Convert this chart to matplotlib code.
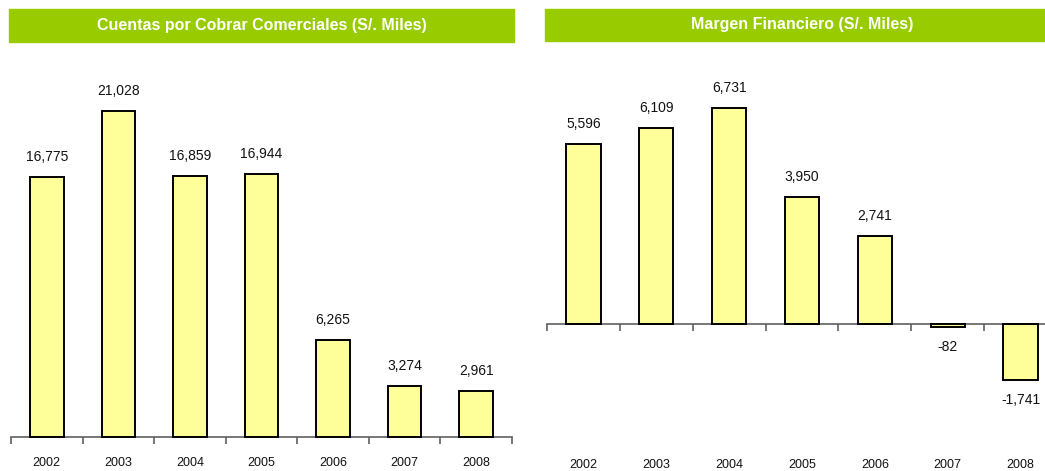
import matplotlib
matplotlib.use('Agg')
import matplotlib.pyplot as plt
import matplotlib.transforms as mtransforms
from matplotlib.patches import Rectangle

years = ['2002', '2003', '2004', '2005', '2006', '2007', '2008']
cuentas = [16775, 21028, 16859, 16944, 6265, 3274, 2961]
margen = [5596, 6109, 6731, 3950, 2741, -82, -1741]
titles = ['Cuentas por Cobrar Comerciales (S/. Miles)', 'Margen Financiero (S/. Miles)']

plt.rcParams['font.family'] = ['Liberation Sans', 'DejaVu Sans']

W, H = 1045, 471
fig = plt.figure(figsize=(W / 100, H / 100), dpi=100)

green = '#99CC00'
bar_fill = '#FFFF99'


def fx(px):
    return px / W


def fy(py):
    return 1 - py / H


def panel(ax, values, ylim, label_y):
    x = range(len(values))
    ax.bar(x, values, width=0.47, color=bar_fill, edgecolor='black', linewidth=1.4, zorder=3)
    ax.set_xlim(-0.5, len(values) - 0.5)
    ax.set_ylim(*ylim)
    for s in ['top', 'right', 'left']:
        ax.spines[s].set_visible(False)
    ax.spines['bottom'].set_position(('data', 0))
    ax.spines['bottom'].set_color('#606060')
    ax.spines['bottom'].set_linewidth(1.2)
    ax.set_yticks([])
    ax.set_xticks([])
    ax.set_xticks([i - 0.5 for i in range(len(values) + 1)], minor=True)
    ax.tick_params(axis='x', which='minor', direction='out', length=5, width=1.2,
                   color='#606060', labelbottom=False)
    trans = mtransforms.blended_transform_factory(ax.transData, ax.transAxes)
    for i, yr in enumerate(years):
        ax.text(i, label_y, yr, transform=trans, ha='center', va='center',
                fontsize=9, color='#111111')
    for i, v in enumerate(values):
        off = 14.4 if v >= 0 else -14.4
        ax.annotate(f'{v:,}', (i, v), xytext=(0, off), textcoords='offset points',
                    ha='center', va='center', fontsize=10, color='#111111')


# left panel: baseline at y=437 px, axes from y=42 to y=471
ax1 = fig.add_axes([fx(11), 0, fx(501), fy(42)])
panel(ax1, cuentas, (-2193, 25478), 8 / 429)

# right panel: baseline at y=324 px
ax2 = fig.add_axes([fx(547), 0, fx(510), fy(42)])
panel(ax2, margen, (-4581, 8788), 6 / 429)

for (x0, x1, y0, y1), t in zip([(9, 514, 9, 42), (545, 1060, 9, 41)], titles):
    fig.patches.append(Rectangle((fx(x0), fy(y1)), fx(x1 - x0), fy(y0) - fy(y1),
                                 transform=fig.transFigure, color=green, zorder=0))
    fig.text(fx((x0 + x1) / 2), fy((y0 + y1) / 2), t, ha='center', va='center',
             color='white', fontsize=11.5, fontweight='bold')

fig.savefig('out.png', dpi=100)
